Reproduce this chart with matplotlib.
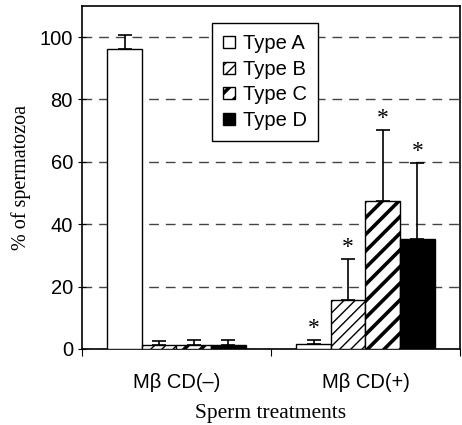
import matplotlib
matplotlib.use('Agg')
from matplotlib import pyplot as plt
import numpy as np

# data
groups = ['M\u03b2 CD(\u2013)', 'M\u03b2 CD(+)']
types = ['Type A', 'Type B', 'Type C', 'Type D']
typeA = [96.2, 1.5]
typeB = [1.2, 15.6]
typeC = [1.2, 47.4]
typeD = [1.3, 35.1]
errA = [4.4, 1.4]
errB = [1.5, 13.4]
errC = [1.6, 22.9]
errD = [1.5, 24.5]
signif = [[False, True], [False, True], [False, True], [False, True]]

values = [typeA, typeB, typeC, typeD]
errors = [errA, errB, errC, errD]
faces = ['white', 'white', 'white', 'black']
hatches = [None, '///', '//', None]
hatch_lw = [1.0, 1.0, 2.6, 1.0]

fig = plt.figure(figsize=(4.62, 4.25), dpi=100)
ax = fig.add_axes([0.1775, 0.179, 0.818, 0.807])

x = np.arange(len(groups))
w = 0.183
for i in range(4):
    pos = x + (i - 1.5) * w
    with plt.rc_context({'hatch.linewidth': hatch_lw[i]}):
        bars = ax.bar(pos, values[i], w, color=faces[i], edgecolor='black', linewidth=1.0,
                      hatch=hatches[i], label=types[i], zorder=3)
    for b in bars:
        if hasattr(b, 'set_hatch_linewidth'):
            b.set_hatch_linewidth(hatch_lw[i])
    ax.errorbar(pos, values[i], yerr=[np.zeros(2), errors[i]], fmt='none',
                ecolor='black', elinewidth=1.2, capsize=5, capthick=1.2, zorder=4)
    for j in range(2):
        if signif[i][j]:
            ax.text(pos[j], values[i][j] + errors[i][j] + 0.2, '*', ha='center',
                    va='bottom', fontsize=17, family='Liberation Serif', zorder=5)

ax.set_xlim(-0.5, 1.5)
ax.set_ylim(0, 110)
ax.set_yticks([0, 20, 40, 60, 80, 100])
ax.set_xticks([-0.5, 0.5, 1.5])
ax.set_xticklabels([])
ax.set_xticks(x, minor=True)
ax.set_xticklabels(groups, minor=True, fontsize=14.5, family='Liberation Sans')
ax.tick_params(axis='x', which='minor', length=0, pad=17)
ax.tick_params(axis='x', which='major', length=5, direction='out')
ax.tick_params(axis='y', length=6, direction='inout', labelsize=14.5)
for lab in ax.get_yticklabels():
    lab.set_family('Liberation Sans')

ax.yaxis.grid(True, linestyle=(0, (7, 5)), color='#444444', linewidth=1.0, zorder=0)
ax.set_axisbelow(True)
for s in ax.spines.values():
    s.set_linewidth(1.2)

ax.set_ylabel('% of spermatozoa', fontsize=14.5, family='Liberation Serif', labelpad=6)
ax.set_xlabel('Sperm treatments', fontsize=15.5, family='Liberation Serif', labelpad=9)

leg = ax.legend(loc='upper left', bbox_to_anchor=(0.345, 0.95), frameon=True, fancybox=False,
                edgecolor='black', framealpha=1, handlelength=0.55, handleheight=0.55,
                handletextpad=0.4, labelspacing=0.33, borderpad=0.55, borderaxespad=0,
                prop={'family': 'Liberation Sans', 'size': 14.5})
leg.get_frame().set_linewidth(1.0)
for h, lw in zip(leg.legend_handles, hatch_lw):
    if hasattr(h, 'set_hatch_linewidth'):
        h.set_hatch_linewidth(lw)

fig.savefig('out.png', dpi=100)
